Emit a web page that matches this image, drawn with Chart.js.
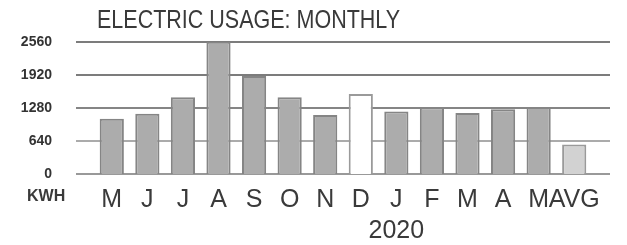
<!DOCTYPE html>
<html>
<head>
<meta charset="utf-8">
<title>Electric Usage</title>
<script src="https://cdn.jsdelivr.net/npm/chart.js@4.4.1/dist/chart.umd.min.js"></script>
<style>
  html, body { margin: 0; padding: 0; background: #fff; }
  #wrap { width: 627px; height: 245px; position: relative; }
</style>
</head>
<body>
<div id="wrap"><canvas id="usageChart"></canvas></div>
<script>
// data
const months = ['M', 'J', 'J', 'A', 'S', 'O', 'N', 'D', 'J', 'F', 'M', 'A', 'M', 'AVG'];
const usage = [1070, 1165, 1485, 2560, 1895, 1485, 1140, 1550, 1210, 1290, 1180, 1255, 1295, 570];
const yTicks = [0, 640, 1280, 1920, 2560];
const yearLabel = '2020';
const yearIndex = 8; // year sits under the J of January
const titleText = 'ELECTRIC USAGE: MONTHLY';
const unitText = 'KWH';

const FONT = "'Liberation Sans', Arial, sans-serif";

// labels - the year goes as a second line under January
const labels = months.map((m, i) => i === yearIndex ? [m, yearLabel] : m);

// bar colours: December is hollow, the average is lighter
const fillColors = months.map((m, i) => i === 7 ? '#ffffff' : (m === 'AVG' ? '#d2d2d2' : '#acacac'));
const edgeColors = months.map((m, i) => i === 7 ? '#9a9a9a' : (m === 'AVG' ? '#9a9a9a' : '#858585'));
const gridColors = ['#999999', '#ababab', '#858585', '#7c7c7c', '#7c7c7c'];

// grid lines run past the plot area on both sides
const extraDraw = {
    id: 'extraDraw',
    beforeDatasetsDraw(chart) {
        const ctx = chart.ctx;
        const y = chart.scales.y;
        ctx.save();
        ctx.lineWidth = 2;
        y.ticks.forEach((t, i) => {
            const py = Math.round(y.getPixelForValue(t.value));
            ctx.strokeStyle = gridColors[i] || '#888';
            ctx.beginPath();
            ctx.moveTo(76, py);
            ctx.lineTo(610, py);
            ctx.stroke();
        });
        ctx.restore();
    },
    afterDraw(chart) {
        const ctx = chart.ctx;
        ctx.save();
        // title (looks condensed in the original)
        ctx.fillStyle = '#3a3a3a';
        ctx.font = '25px ' + FONT;
        ctx.textBaseline = 'alphabetic';
        ctx.translate(97, 28);
        ctx.scale(0.86, 1);
        ctx.fillText(titleText, 0, 0);
        ctx.restore();

        ctx.save();
        ctx.fillStyle = '#3a3a3a';
        ctx.font = 'bold 16px ' + FONT;
        ctx.fillText(unitText, 27, 201);
        ctx.restore();
    }
};

const ctx = document.getElementById('usageChart').getContext('2d');
const usageChart = new Chart(ctx, {
    type: 'bar',
    data: {
        labels: labels,
        datasets: [{
            data: usage,
            backgroundColor: fillColors,
            borderColor: edgeColors,
            borderWidth: 2,
            barPercentage: 0.68,
            categoryPercentage: 1
        }]
    },
    options: {
        responsive: true,
        maintainAspectRatio: false,
        animation: false,
        layout: {
            padding: { top: 41.7, right: 35, bottom: 0, left: 0 }
        },
        plugins: {
            legend: { display: false },
            tooltip: { enabled: false },
            title: { display: false }
        },
        scales: {
            x: {
                grid: { display: false, drawTicks: false },
                border: { display: false },
                ticks: {
                    autoSkip: false,
                    maxRotation: 0,
                    minRotation: 0,
                    padding: 10,
                    color: '#3a3a3a',
                    font: { family: FONT, size: 25, lineHeight: 1.25 }
                },
                afterFit(scale) { scale.height = 71; }
            },
            y: {
                min: 0,
                max: 2560,
                grid: { display: false, drawTicks: false },
                border: { display: false },
                afterBuildTicks(scale) {
                    scale.ticks = yTicks.map(v => ({ value: v }));
                },
                ticks: {
                    padding: 42,
                    color: '#333333',
                    font: { family: FONT, size: 14, weight: 'bold' },
                    callback: function(value) { return String(value); }
                },
                afterFit(scale) {
                    scale.width = 94;
                    // the wide label gap should not push the plot down
                    scale.paddingTop = 8;
                    scale.paddingBottom = 8;
                }
            }
        }
    },
    plugins: [extraDraw]
});
</script>
</body>
</html>
